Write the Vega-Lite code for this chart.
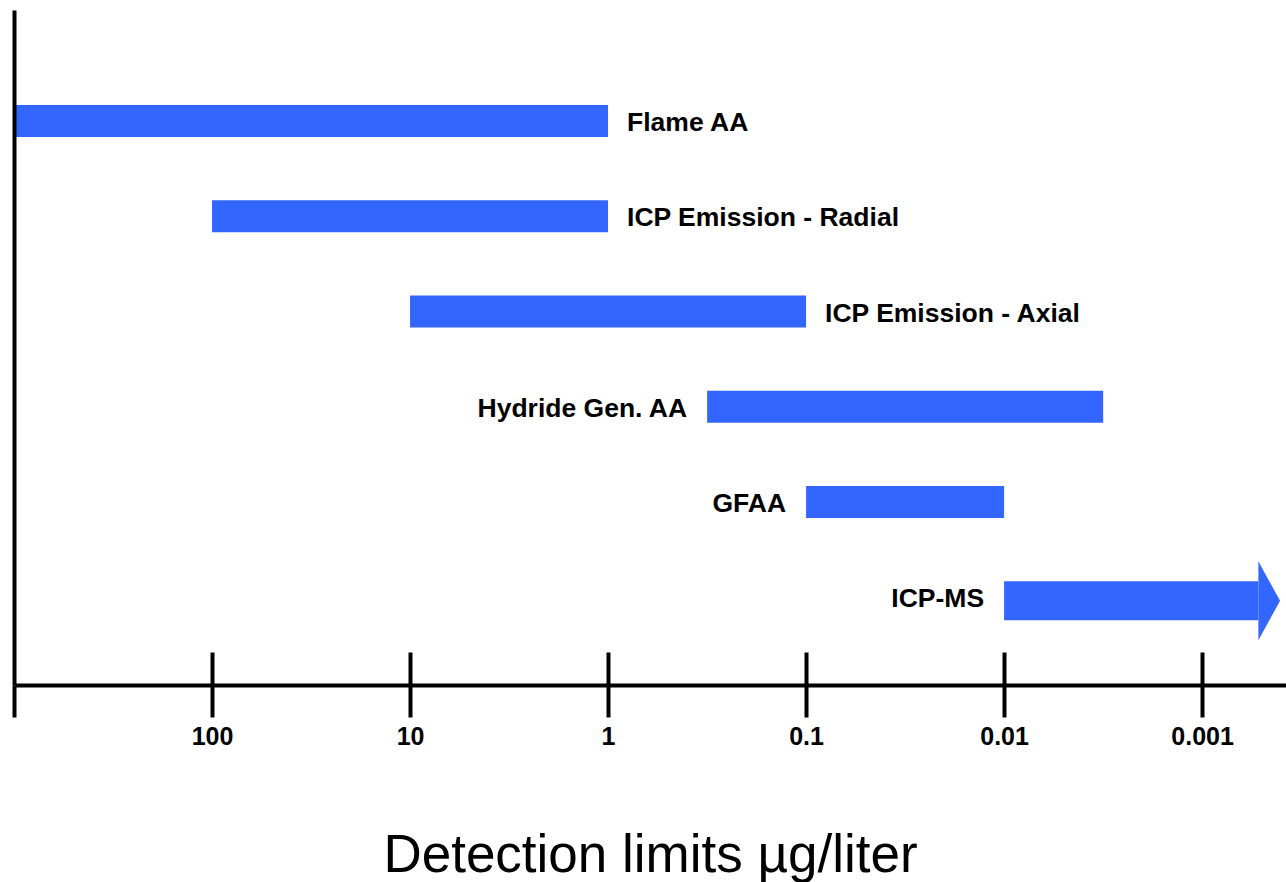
{
  "$schema": "https://vega.github.io/schema/vega-lite/v6.json",
  "width": 1272,
  "height": 675,
  "autosize": {"type": "none"},
  "padding": {"left": 14, "top": 10, "right": 0, "bottom": 197},
  "background": "white",
  "config": {"view": {"stroke": null}, "font": "Liberation Sans"},
  "data": {
    "values": [
      {"method": "Flame AA", "from": 1000, "to": 1},
      {"method": "ICP Emission - Radial", "from": 100, "to": 1},
      {"method": "ICP Emission - Axial", "from": 10, "to": 0.1},
      {"method": "Hydride Gen. AA", "from": 0.316, "to": 0.00316},
      {"method": "GFAA", "from": 0.1, "to": 0.01},
      {"method": "ICP-MS", "from": 0.01, "to": 0.00052}
    ]
  },
  "resolve": {"axis": {"x": "independent"}},
  "layer": [
    {
      "transform": [{"filter": "datum.method !== 'ICP-MS'"}],
      "mark": {"type": "bar", "color": "#3366FF"},
      "encoding": {
        "y": {
          "field": "method",
          "type": "nominal",
          "sort": null,
          "scale": {
            "domain": ["Flame AA", "ICP Emission - Radial", "ICP Emission - Axial", "Hydride Gen. AA", "GFAA", "ICP-MS"],
            "paddingInner": 0.664,
            "paddingOuter": 0.875,
            "align": 0.57,
            "round": false
          },
          "axis": {
            "domain": true,
            "domainColor": "black",
            "domainWidth": 4,
            "ticks": false,
            "labels": false,
            "title": null,
            "grid": false,
            "zindex": 1
          }
        },
        "x": {
          "field": "from",
          "type": "quantitative",
          "scale": {"type": "log", "domain": [1000, 0.000377], "nice": false, "zero": false},
          "axis": {
            "orient": "bottom",
            "values": [1000, 100, 10, 1, 0.1, 0.01, 0.001],
            "labelExpr": "datum.value >= 1000 ? '' : toString(datum.value)",
            "domainColor": "black",
            "domainWidth": 4,
            "tickColor": "black",
            "tickWidth": 4,
            "tickSize": 32,
            "labelFontSize": 25,
            "labelFontWeight": "bold",
            "labelColor": "black",
            "labelPadding": 7,
            "labelFlush": false,
            "labelOverlap": false,
            "grid": false,
            "title": "Detection limits µg/liter",
            "titleFontSize": 53,
            "titleFontWeight": "normal",
            "titleColor": "black",
            "titlePadding": 80
          }
        },
        "x2": {"field": "to"}
      }
    },
    {
      "transform": [{"filter": "datum.method === 'ICP-MS'"}],
      "mark": {"type": "bar", "color": "#3366FF", "height": 39, "yOffset": 3.5},
      "encoding": {
        "y": {"field": "method", "type": "nominal", "sort": null},
        "x": {"field": "from", "type": "quantitative", "axis": null},
        "x2": {"field": "to"}
      }
    },
    {
      "transform": [{"filter": "datum.method === 'ICP-MS'"}],
      "mark": {
        "type": "point",
        "shape": "M 0 -1 L 0.55 0 L 0 1 Z",
        "filled": true,
        "color": "#3366FF",
        "opacity": 1,
        "strokeWidth": 0,
        "size": 6241,
        "yOffset": 3.5
      },
      "encoding": {
        "y": {"field": "method", "type": "nominal", "sort": null},
        "x": {"field": "to", "type": "quantitative", "axis": null}
      }
    },
    {
      "transform": [{"filter": "datum.from >= 10"}],
      "mark": {
        "type": "text",
        "align": "left",
        "baseline": "middle",
        "dx": 19,
        "dy": 2,
        "fontSize": 26.5,
        "fontWeight": "bold",
        "color": "black"
      },
      "encoding": {
        "y": {"field": "method", "type": "nominal", "sort": null},
        "x": {
          "field": "to",
          "type": "quantitative",
          "axis": {
            "orient": "bottom",
            "offset": -33,
            "values": [100, 10, 1, 0.1, 0.01, 0.001],
            "domain": false,
            "labels": false,
            "ticks": true,
            "tickSize": 33,
            "tickWidth": 4,
            "tickColor": "black",
            "grid": false,
            "title": null
          }
        },
        "text": {"field": "method"}
      }
    },
    {
      "transform": [{"filter": "datum.from < 10"}],
      "mark": {
        "type": "text",
        "align": "right",
        "baseline": "middle",
        "dx": -20,
        "dy": 2,
        "fontSize": 26.5,
        "fontWeight": "bold",
        "color": "black"
      },
      "encoding": {
        "y": {"field": "method", "type": "nominal", "sort": null},
        "x": {"field": "from", "type": "quantitative", "axis": null},
        "text": {"field": "method"}
      }
    }
  ]
}
